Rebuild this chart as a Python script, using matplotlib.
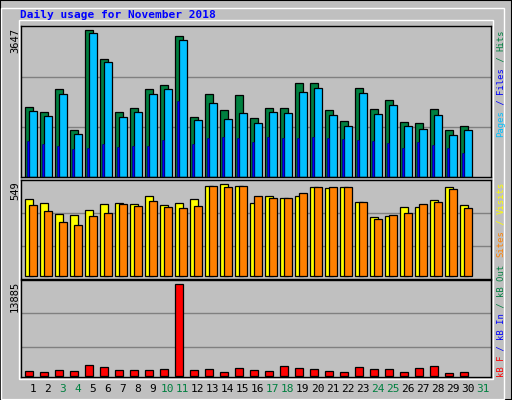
import matplotlib
matplotlib.use("Agg")
import matplotlib.pyplot as plt
from matplotlib.patches import Rectangle

days = list(range(1, 32))
hits = [1716,1592,2162,1147,3647,2929,1592,1691,2162,2261,3482,1469,2038,1642,2013,1444,1691,1691,2310,2310,1642,1370,2186,1667,1889,1345,1320,1667,1147,1246]
files = [1617,1493,2038,1048,3572,2855,1469,1592,2038,2162,3399,1394,1815,1419,1568,1320,1592,1568,2087,2186,1518,1246,2063,1543,1766,1246,1172,1518,1023,1147]
pages = [875,800,751,677,701,800,726,751,751,899,1865,800,949,974,949,850,974,949,949,974,949,924,899,875,825,701,850,776,701,578]
visits = [459,436,370,364,394,430,436,430,477,424,436,459,537,549,537,436,477,465,477,531,525,531,442,352,358,412,412,453,531,424]
sites = [424,388,322,304,358,376,430,418,448,412,406,418,537,531,537,477,465,465,495,531,531,531,442,340,364,376,430,442,519,406]
kbytes = [811,659,963,811,1723,1419,963,963,963,1115,13885,963,1115,659,1267,963,811,1571,1267,1115,811,659,1419,1115,1115,659,1267,1571,507,659]
weekend = [3,4,10,11,17,18,24,25,31]

W, H = 512, 400
BG = "#C0C0C0"
fig = plt.figure(figsize=(W/100, H/100), dpi=100, facecolor=BG)
mono = "DejaVu Sans Mono"

fig.patches.append(Rectangle((0, 0), 1, 1, transform=fig.transFigure, fill=False, edgecolor="black", lw=1.5))
fig.patches.append(Rectangle((1/W, 1/H), (W-9)/W, (H-9)/H, transform=fig.transFigure, fill=False, edgecolor="white", lw=1))
fig.patches.append(Rectangle((19/W, 21/H), 474/W, 359/H, transform=fig.transFigure, fill=False, edgecolor="white", lw=1))

def ax_px(x0, y0, x1, y1):
    return fig.add_axes([x0/W, 1-y1/H, (x1-x0)/W, (y1-y0)/H])

XL = (-0.31, 31.02)

def style(ax, ylim, grids):
    ax.set_facecolor(BG)
    ax.set_xlim(*XL)
    ax.set_ylim(*ylim)
    for g in grids:
        ax.axhline(g, color="#808080", lw=1, zorder=0)
    ax.set_xticks([]); ax.set_yticks([])
    for s in ax.spines.values():
        s.set_color("black"); s.set_linewidth(1)

n = len(hits)
x = [d - 1 for d in days[:n]]

a1 = ax_px(20.7, 26, 490.7, 177)
style(a1, (-10, 3736), [1222, 2474])
a1.bar(x, hits, width=0.49, align="edge", color="#008040", edgecolor="black", lw=0.9)
a1.bar([v+0.27 for v in x], files, width=0.49, align="edge", color="#00C0FF", edgecolor="black", lw=0.9)
a1.bar([v+0.13 for v in x], pages, width=0.12, align="edge", color="#0000FF", edgecolor="#000080", lw=0.5)

a2 = ax_px(20.7, 180, 490.7, 279)
style(a2, (-16, 575), [179, 376])
a2.bar(x, visits, width=0.49, align="edge", color="#FFFF00", edgecolor="black", lw=0.9)
a2.bar([v+0.27 for v in x], sites, width=0.49, align="edge", color="#FF8000", edgecolor="black", lw=0.9)

a3 = ax_px(20.7, 280, 490.7, 376.5)
style(a3, (-60, 14537), [4466, 9479])
a3.bar(x, kbytes, width=0.49, align="edge", color="#FF0000", edgecolor="black", lw=0.9)

for d in days:
    a3.text(d - 1 + 0.5, -0.13, str(d), transform=a3.get_xaxis_transform(), ha="center", va="center",
            fontsize=8, family=mono, color="#008040" if d in weekend else "black")

fig.text(20/W, 1-15/H, "Daily usage for November 2018", color="#0000FF", fontsize=8,
         family=mono, weight="bold", va="center", ha="left")

for txt, ytop in [("3647", 28), ("549", 181), ("13885", 281)]:
    fig.text(15/W, 1-ytop/H, txt, rotation=90, fontsize=7.5, family=mono, ha="center", va="top")

def vlabel(segs, ybottom, fs=6.4):
    step = 0.602 * fs * 100 / 72
    y = ybottom
    for t, c in segs:
        fig.text(501/W, 1-y/H, t, rotation=90, fontsize=fs, family=mono, color=c, ha="center", va="bottom")
        y -= step * len(t)

vlabel([("Pages", "#00C0FF"), (" / ", "#0000FF"), ("Files", "#0000FF"), (" / ", "#008040"), ("Hits", "#008040")], 137)
vlabel([("Sites", "#FF8000"), (" / ", "#FFFF00"), ("Visits", "#FFFF00")], 257)
vlabel([("kB F", "#FF0000"), (" / ", "#0000FF"), ("kB In", "#0000FF"), (" / ", "#008040"), ("kB Out", "#008040")], 377)

fig.savefig("out.png", dpi=100, facecolor=BG)
